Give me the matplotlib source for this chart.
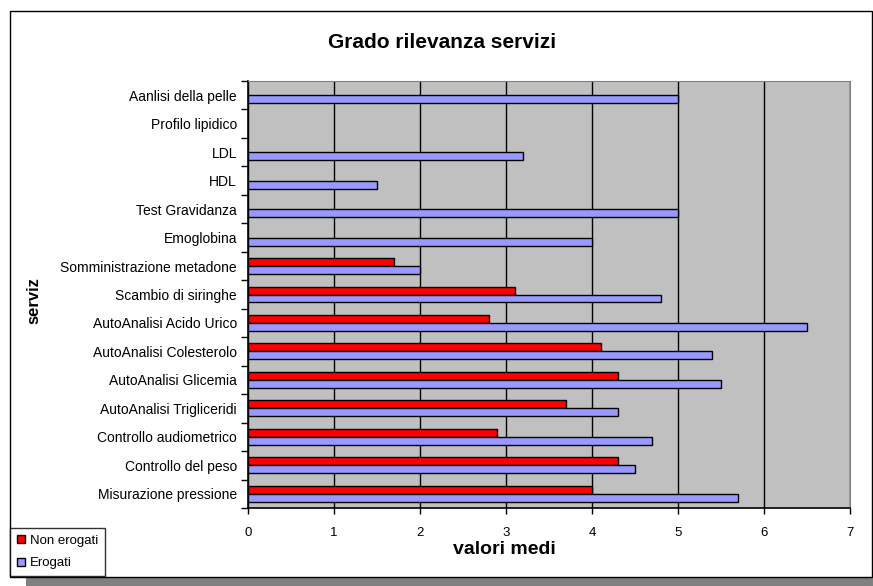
import numpy as np
import matplotlib
matplotlib.use("Agg")
import matplotlib.pyplot as plt
from matplotlib.patches import Rectangle
from matplotlib.lines import Line2D

plt.rcParams['font.family'] = ['Liberation Sans', 'DejaVu Sans']

categories = [
    "Aanlisi della pelle",
    "Profilo lipidico",
    "LDL",
    "HDL",
    "Test Gravidanza",
    "Emoglobina",
    "Somministrazione metadone",
    "Scambio di siringhe",
    "AutoAnalisi Acido Urico",
    "AutoAnalisi Colesterolo",
    "AutoAnalisi Glicemia",
    "AutoAnalisi Trigliceridi",
    "Controllo audiometrico",
    "Controllo del peso",
    "Misurazione pressione",
]
non_erogati = [np.nan, np.nan, np.nan, np.nan, np.nan, np.nan,
               1.7, 3.1, 2.8, 4.1, 4.3, 3.7, 2.9, 4.3, 4.0]
erogati = [5.0, np.nan, 3.2, 1.5, 5.0, 4.0,
           2.0, 4.8, 6.5, 5.4, 5.5, 4.3, 4.7, 4.5, 5.7]
x_ticks = [0, 1, 2, 3, 4, 5, 6, 7]

W, H = 873, 586
fig = plt.figure(figsize=(W / 100, H / 100), dpi=100)
fig.patch.set_facecolor("white")

def fx(px):
    return px / W

def fy(py):
    return 1 - py / H

# chart frame with drop shadow
fig.patches.append(Rectangle((fx(26), fy(586)), fx(873 - 26), (586 - 578) / H,
                             transform=fig.transFigure, facecolor="#808080",
                             edgecolor="none", zorder=-3))
fig.patches.append(Rectangle((fx(10), fy(577)), fx(872 - 10), (577 - 11) / H,
                             transform=fig.transFigure, facecolor="white",
                             edgecolor="black", linewidth=1.0, zorder=-2))

ax = fig.add_axes([fx(248), fy(508), fx(850 - 248), (508 - 81) / H])
ax.set_zorder(1)
ax.set_facecolor("#C0C0C0")

n = len(categories)
y = np.arange(n)
h = 0.28
ax.barh(y - h / 2, non_erogati, height=h, color="#FF0000", edgecolor="black",
        linewidth=1.0, zorder=3, label="Non erogati")
ax.barh(y + h / 2, erogati, height=h, color="#9999FF", edgecolor="black",
        linewidth=1.0, zorder=3, label="Erogati")

ax.set_xlim(0, 7)
ax.set_ylim(n - 0.5, -0.5)
ax.set_xticks(x_ticks)
ax.set_xticklabels([str(t) for t in x_ticks], fontsize=9.5)
ax.tick_params(axis="x", length=4, width=1, pad=10, direction="out")

ax.set_yticks(np.arange(-0.5, n, 1.0))
ax.set_yticklabels([])
ax.set_yticks(y, minor=True)
ax.set_yticklabels(categories, minor=True, fontsize=10)
ax.tick_params(axis="y", which="major", length=5, width=1, direction="out")
ax.tick_params(axis="y", which="minor", length=0, pad=8)

ax.grid(axis="x", color="black", linewidth=1.0, zorder=1)
ax.set_axisbelow(True)

ax.spines["left"].set_color("black")
ax.spines["bottom"].set_color("black")
ax.spines["left"].set_linewidth(1.2)
ax.spines["bottom"].set_linewidth(1.2)
ax.spines["top"].set_color("#808080")
ax.spines["right"].set_color("#808080")

fig.text(fx(442), fy(43), "Grado rilevanza servizi", ha="center", va="center",
         fontsize=15, fontweight="bold")
fig.text(fx(504), fy(549), "valori medi", ha="center", va="center",
         fontsize=14, fontweight="bold")
fig.text(fx(34), fy(301), "serviz", ha="center", va="center", rotation=90,
         fontsize=12, fontweight="bold")

handles = [
    Line2D([], [], marker="s", linestyle="none", markersize=6,
           markerfacecolor="#FF0000", markeredgecolor="black"),
    Line2D([], [], marker="s", linestyle="none", markersize=6,
           markerfacecolor="#9999FF", markeredgecolor="black"),
]
leg = fig.legend(handles, ["Non erogati", "Erogati"], loc="lower left",
                 bbox_to_anchor=(fx(10), fy(576)), fontsize=9.5, frameon=True,
                 fancybox=False, edgecolor="black", handlelength=0.6,
                 handletextpad=0.4, borderpad=0.5, labelspacing=0.8,
                 borderaxespad=0)
leg.get_frame().set_linewidth(1.0)

fig.savefig("out.png", dpi=100)
